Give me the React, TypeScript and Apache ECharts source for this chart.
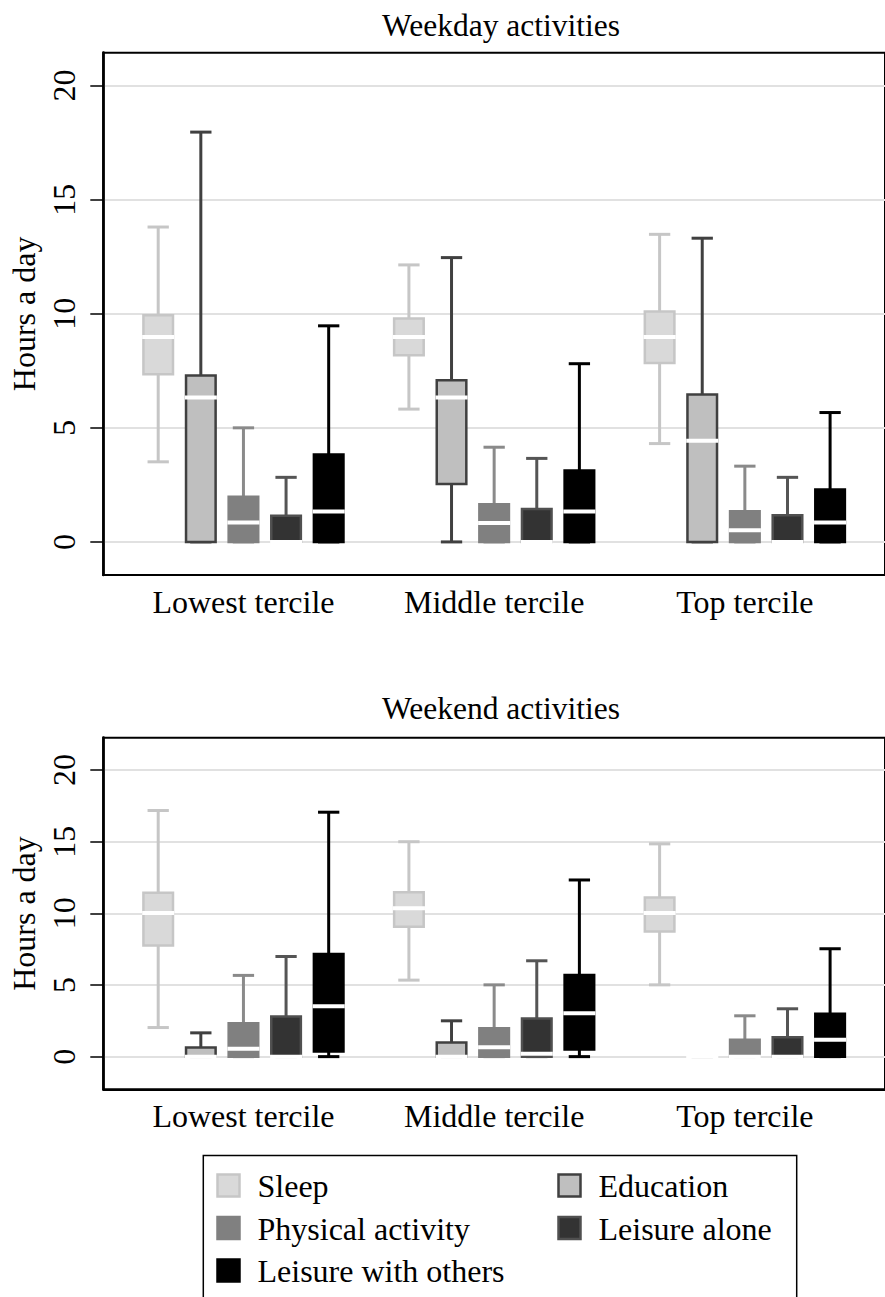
import React, { useEffect, useRef } from "react";
import * as echarts from "echarts";

// ---- data ----
const terciles = ["Lowest tercile", "Middle tercile", "Top tercile"];
const activities = ["Sleep", "Education", "Physical activity", "Leisure alone", "Leisure with others"];
const yTicks = [0, 5, 10, 15, 20];
const panelTitles = ["Weekday activities", "Weekend activities"];
const yAxisTitle = "Hours a day";

// each row: [lower whisker, q1, median, q3, upper whisker] per tercile
const weekdaySleep = [[3.51, 7.35, 8.98, 9.93, 13.8], [5.82, 8.18, 8.98, 9.79, 12.14], [4.31, 7.84, 8.98, 10.1, 13.48]];
const weekdayEducation = [[0, 0, 6.33, 7.29, 17.96], [0, 2.54, 6.33, 7.08, 12.46], [0, 0, 4.43, 6.46, 13.31]];
const weekdayPhysical = [[0, 0, 0.85, 1.98, 5.0], [0, 0, 0.83, 1.65, 4.15], [0, 0, 0.51, 1.34, 3.32]];
const weekdayLeisureAlone = [[0, 0, 0, 1.15, 2.83], [0, 0, 0, 1.44, 3.66], [0, 0, 0, 1.17, 2.83]];
const weekdayLeisureOthers = [[0, 0, 1.33, 3.83, 9.47], [0, 0, 1.33, 3.13, 7.81], [0, 0, 0.85, 2.3, 5.67]];

const weekendSleep = [[2.03, 7.76, 10.03, 11.43, 17.18], [5.34, 9.07, 10.35, 11.47, 15.0], [5.01, 8.74, 10.03, 11.1, 14.85]];
const weekendEducation = [[0, 0, 0, 0.63, 1.66], [0, 0, 0, 0.98, 2.5], [0, 0, 0, 0, 0]];
const weekendPhysical = [[0, 0, 0.55, 2.33, 5.67], [0, 0, 0.66, 1.98, 5.01], [0, 0, 0, 1.17, 2.85]];
const weekendLeisureAlone = [[0, 0, 0, 2.8, 6.99], [0, 0, 0.2, 2.66, 6.69], [0, 0, 0, 1.36, 3.34]];
const weekendLeisureOthers = [[0, 0.35, 3.52, 7.16, 17.06], [0, 0.49, 3.03, 5.69, 12.33], [0, 0, 1.17, 2.99, 7.53]];

const weekdayData = [weekdaySleep, weekdayEducation, weekdayPhysical, weekdayLeisureAlone, weekdayLeisureOthers];
const weekendData = [weekendSleep, weekendEducation, weekendPhysical, weekendLeisureAlone, weekendLeisureOthers];

// ---- styles / layout ----
const FONT = "Liberation Serif, DejaVu Serif, serif";
const FS = 32;
const FS_TITLE = 31.5;
const STYLES = [
  { fill: "#d9d9d9", border: "#c6c6c6", whisker: "#c6c6c6" },
  { fill: "#bfbfbf", border: "#404040", whisker: "#404040" },
  { fill: "#808080", border: "#808080", whisker: "#8a8a8a" },
  { fill: "#333333", border: "#505050", whisker: "#555555" },
  { fill: "#000000", border: "#000000", whisker: "#000000" },
];
const OFFSETS = [-0.34, -0.17, 0, 0.17, 0.34];
const BOX_W = 0.118;
const CAP_W = 0.085;
const X_MIN = -0.559;
const X_MAX = 2.559;

const PANELS = [
  { top: 52.7, height: 522.3, min: -1.45, max: 21.44, titleY: 25 },
  { top: 737.7, height: 351.6, min: -2.28, max: 22.26, titleY: 708.5 },
];

function makeRender(k: number) {
  const st = STYLES[k];
  return (params: any, api: any) => {
    const xc = api.value(0) + OFFSETS[k];
    const low = api.coord([xc, api.value(1)]);
    const q1 = api.coord([xc, api.value(2)]);
    const med = api.coord([xc, api.value(3)]);
    const q3 = api.coord([xc, api.value(4)]);
    const high = api.coord([xc, api.value(5)]);
    const bw = api.size([BOX_W, 0])[0];
    const cw = api.size([CAP_W, 0])[0];
    const x = low[0];
    const lw = 2.5;
    return {
      type: "group",
      children: [
        { type: "line", shape: { x1: x, y1: high[1], x2: x, y2: low[1] }, style: { stroke: st.whisker, lineWidth: 3 } },
        { type: "line", shape: { x1: x - cw / 2, y1: high[1], x2: x + cw / 2, y2: high[1] }, style: { stroke: st.whisker, lineWidth: 3 } },
        { type: "line", shape: { x1: x - cw / 2, y1: low[1], x2: x + cw / 2, y2: low[1] }, style: { stroke: st.whisker, lineWidth: 3 } },
        { type: "rect", shape: { x: x - bw / 2, y: q3[1], width: bw, height: q1[1] - q3[1] }, style: { fill: st.fill, stroke: st.border, lineWidth: lw } },
        { type: "line", shape: { x1: x - bw / 2 - lw / 2, y1: med[1], x2: x + bw / 2 + lw / 2, y2: med[1] }, style: { stroke: "#ffffff", lineWidth: 4 } },
      ],
    };
  };
}

export default function App() {
  const ref = useRef<HTMLDivElement>(null);
  useEffect(() => {
    if (!ref.current) return;
    const chart = echarts.init(ref.current, undefined, { renderer: "svg" });
    const panelsData = [weekdayData, weekendData];

    const grid = PANELS.map((p) => ({
      left: 103.3, top: p.top, width: 794, height: p.height,
      show: true, borderColor: "#000", borderWidth: 2, backgroundColor: "transparent",
    }));
    const xAxis = PANELS.map((p, i) => ({
      type: "value", gridIndex: i, min: X_MIN, max: X_MAX,
      axisLine: { show: true, onZero: false, lineStyle: { color: "#000", width: 2 } },
      axisTick: { show: false },
      splitLine: { show: false },
      axisLabel: {
        customValues: [0, 1, 2], margin: 11, fontFamily: FONT, fontSize: FS, color: "#000",
        formatter: (v: number) => terciles[Math.round(v)] ?? "",
      },
    }));
    const yAxis = PANELS.map((p, i) => ({
      type: "value", gridIndex: i, min: p.min, max: p.max,
      name: yAxisTitle, nameLocation: "middle", nameRotate: 90, nameGap: 56,
      nameTextStyle: { fontFamily: FONT, fontSize: FS, color: "#000" },
      axisLine: { show: true, onZero: false, lineStyle: { color: "#000", width: 2.7 } },
      axisTick: { show: true, customValues: yTicks, length: 13, lineStyle: { color: "#000", width: 1.5 } },
      axisLabel: { customValues: yTicks, rotate: 90, margin: 23, fontFamily: FONT, fontSize: FS, color: "#000" },
      splitLine: { show: true, lineStyle: { color: "#e1e1e1", width: 2 } },
    }));

    const series: any[] = [];
    panelsData.forEach((pd, pi) => {
      pd.forEach((arr, k) => {
        series.push({
          type: "custom", name: activities[k], xAxisIndex: pi, yAxisIndex: pi,
          renderItem: makeRender(k),
          encode: { x: 0, y: [1, 2, 3, 4, 5] },
          data: arr.map((v, g) => [g, ...v]),
          z: 3,
        });
      });
    });

    const graphic: any[] = [];
    PANELS.forEach((p, i) => {
      graphic.push({
        type: "text", x: 501, y: p.titleY,
        style: { text: panelTitles[i], fontFamily: FONT, fontSize: FS_TITLE, fill: "#000", textAlign: "center", textVerticalAlign: "middle" },
      });
    });
    // legend
    graphic.push({ type: "rect", shape: { x: 203.3, y: 1155.5, width: 593.4, height: 220 }, style: { fill: "none", stroke: "#000", lineWidth: 1.5 } });
    const legendPos = [
      [216, 1173.5], [557, 1173.5], [216, 1216], [557, 1216], [216, 1258.5],
    ];
    activities.forEach((name, k) => {
      const [lx, ly] = legendPos[k];
      const st = STYLES[k];
      graphic.push({ type: "rect", shape: { x: lx + 1.5, y: ly + 1, width: 22, height: 22 }, style: { fill: st.fill, stroke: st.border, lineWidth: 2.5 } });
      graphic.push({
        type: "text", x: lx + 41.5, y: ly + 12.5,
        style: { text: name, fontFamily: FONT, fontSize: FS, fill: "#000", textAlign: "left", textVerticalAlign: "middle" },
      });
    });

    chart.setOption({
      animation: false,
      backgroundColor: "#fff",
      grid, xAxis, yAxis, series, graphic,
    });
    return () => chart.dispose();
  }, []);
  return <div ref={ref} style={{ position: "fixed", left: 0, top: 0, width: 885, height: 1297 }} />;
}
